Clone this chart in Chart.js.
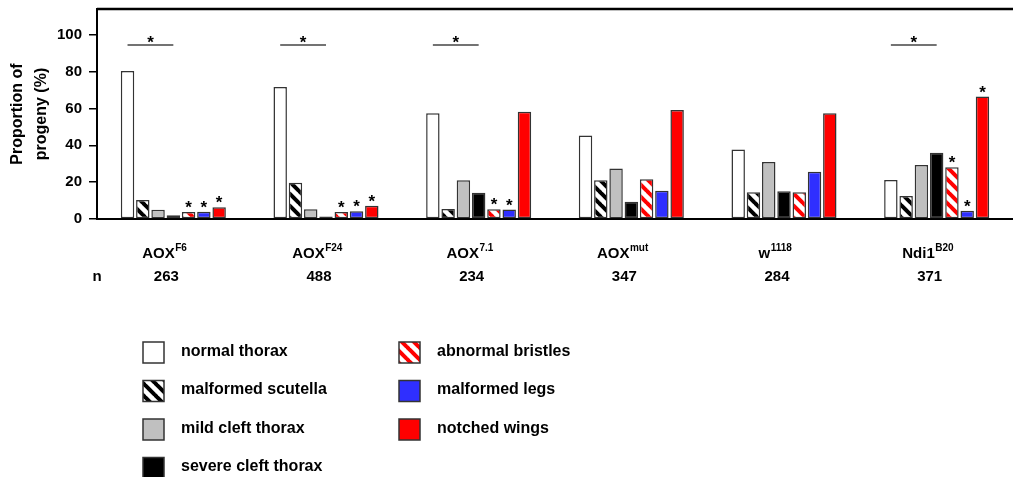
<!DOCTYPE html>
<html>
<head>
<meta charset="utf-8">
<script src="https://cdn.jsdelivr.net/npm/chart.js@4.4.0/dist/chart.umd.min.js"></script>
<style>
body{margin:0;background:#fff;}
</style>
</head>
<body>
<canvas id="myChart" width="1013" height="477"></canvas>
<script>
// genotypes (name + superscript) and n per genotype
var groups = ['AOX', 'AOX', 'AOX', 'AOX', 'w', 'Ndi1'];
var groupSup = ['F6', 'F24', '7.1', 'mut', '1118', 'B20'];
var nCounts = ['263', '488', '234', '347', '284', '371'];

var phenotypes = ['normal thorax', 'malformed scutella', 'mild cleft thorax', 'severe cleft thorax',
                  'abnormal bristles', 'malformed legs', 'notched wings'];

// proportion of progeny (%)
var normalThorax      = [80.4, 71.7, 57.4, 45.3, 37.7, 21.2];
var malformedScutella = [10.3, 19.7, 5.4, 21.0, 14.5, 12.5];
var mildCleft         = [5.0, 5.3, 21.0, 27.4, 31.0, 29.3];
var severeCleft       = [2.0, 1.3, 14.3, 9.4, 15.0, 35.9];
var abnormalBristles  = [3.8, 3.8, 5.3, 21.6, 14.5, 28.1];
var malformedLegs     = [4.0, 4.2, 5.1, 15.4, 25.7, 4.5];
var notchedWings      = [6.4, 7.2, 58.2, 59.2, 57.4, 66.5];

var yTicks = [0, 20, 40, 60, 80, 100];

// significance marks: per genotype, which phenotype bars carry a star
var starredBars = [[4, 5, 6], [4, 5, 6], [4, 5], [], [], [4, 5, 6]];
var bracketGroups = [0, 1, 2, 5];
var bracketLevel = 94.5;

function stripes(color){
    var s = 12;
    var c = document.createElement('canvas');
    c.width = s; c.height = s;
    var g = c.getContext('2d');
    g.fillStyle = '#fff';
    g.fillRect(0, 0, s, s);
    g.strokeStyle = color;
    g.lineWidth = 4;
    for (var k = -s; k <= s; k += s){
        g.beginPath();
        g.moveTo(k - 1, -1);
        g.lineTo(k + s + 1, s + 1);
        g.stroke();
    }
    return g.createPattern(c, 'repeat');
}

var fills = ['#ffffff', stripes('#000000'), '#c0c0c0', '#000000', stripes('#ff0000'), '#2f2fff', '#ff0000'];
var series = [normalThorax, malformedScutella, mildCleft, severeCleft, abnormalBristles, malformedLegs, notchedWings];

var FONT = '"Liberation Sans", Arial, sans-serif';

var extras = {
    id: 'extras',
    afterDraw: function(chart){
        var ctx = chart.ctx, area = chart.chartArea, xs = chart.scales.x, ys = chart.scales.y;
        ctx.save();

        // top frame line
        ctx.strokeStyle = '#000';
        ctx.lineWidth = 2.5;
        ctx.beginPath();
        ctx.moveTo(area.left, area.top);
        ctx.lineTo(area.right, area.top);
        ctx.stroke();

        // brackets with star
        ctx.fillStyle = '#000';
        ctx.textAlign = 'center';
        ctx.textBaseline = 'alphabetic';
        ctx.font = 'bold 17px ' + FONT;
        var ly = ys.getPixelForValue(bracketLevel);
        bracketGroups.forEach(function(g){
            var a = chart.getDatasetMeta(0).data[g].x;
            var b = chart.getDatasetMeta(3).data[g].x;
            ctx.strokeStyle = '#444';
            ctx.lineWidth = 1.5;
            ctx.beginPath();
            ctx.moveTo(a, ly);
            ctx.lineTo(b, ly);
            ctx.stroke();
            ctx.fillText('*', (a + b) / 2, ly + 3);
        });

        // stars over single bars
        starredBars.forEach(function(list, g){
            list.forEach(function(d){
                var bar = chart.getDatasetMeta(d).data[g];
                ctx.fillText('*', bar.x, bar.y + 1);
            });
        });

        // category labels with superscripts, and n row
        var baseFont = 'bold 15px ' + FONT, supFont = 'bold 10px ' + FONT;
        groups.forEach(function(name, i){
            var cx = xs.getPixelForValue(i) - 9;
            ctx.font = baseFont;
            var w1 = ctx.measureText(name).width;
            ctx.font = supFont;
            var w2 = ctx.measureText(groupSup[i]).width;
            var left = cx - (w1 + w2) / 2;
            ctx.textAlign = 'left';
            ctx.font = baseFont;
            ctx.fillText(name, left, 258);
            ctx.font = supFont;
            ctx.fillText(groupSup[i], left + w1 + 0.5, 251);
            ctx.textAlign = 'center';
            ctx.font = baseFont;
            ctx.fillText(nCounts[i], cx + 2, 281);
        });
        ctx.textAlign = 'center';
        ctx.fillText('n', area.left, 281);

        // legend, two columns
        var cols = [[0, 1, 2, 3], [4, 5, 6]];
        var colX = [143, 399];
        ctx.font = 'bold 16px ' + FONT;
        ctx.textAlign = 'left';
        cols.forEach(function(list, c){
            list.forEach(function(d, r){
                var top = 342 + r * 38.5;
                ctx.fillStyle = chart.data.datasets[d].backgroundColor;
                ctx.fillRect(colX[c], top, 21, 21);
                ctx.strokeStyle = '#333';
                ctx.lineWidth = 1.5;
                ctx.strokeRect(colX[c], top, 21, 21);
                ctx.fillStyle = '#000';
                ctx.fillText(chart.data.datasets[d].label, colX[c] + 38, top + 13.5);
            });
        });
        ctx.restore();
    }
};

var ctx = document.getElementById('myChart');
var myChart = new Chart(ctx, {
    type: 'bar',
    data: {
        labels: groups.map(function(g, i){ return g + groupSup[i]; }),
        datasets: phenotypes.map(function(p, i){
            return {
                label: p,
                data: series[i],
                backgroundColor: fills[i],
                borderColor: '#333',
                borderWidth: 1.5,
                borderSkipped: false,
                categoryPercentage: 0.7,
                barPercentage: 0.88
            };
        })
    },
    options: {
        responsive: false,
        animation: false,
        devicePixelRatio: 1,
        layout: {padding: {top: 9, right: 0, bottom: 258, left: 0}},
        plugins: {legend: {display: false}, tooltip: {enabled: false}},
        scales: {
            x: {
                grid: {display: false},
                ticks: {display: false},
                border: {display: true, color: '#000', width: 2},
                afterFit: function(s){ s.height = 0; s.paddingLeft = 0; s.paddingRight = 0; }
            },
            y: {
                min: 0,
                max: 114,
                afterFit: function(s){ s.width = 97; s.paddingTop = 0; s.paddingBottom = 0; },
                afterBuildTicks: function(s){ s.ticks = yTicks.map(function(v){ return {value: v}; }); },
                grid: {drawOnChartArea: false, drawTicks: true, tickLength: 8, color: '#000', lineWidth: 1.5},
                border: {display: true, color: '#000', width: 2},
                ticks: {color: '#000', padding: 7, font: {family: FONT, size: 15, weight: 'bold'}},
                title: {
                    display: true,
                    text: ['Proportion of', 'progeny (%)'],
                    color: '#000',
                    padding: {top: 6, bottom: 0},
                    font: {family: FONT, size: 16, weight: 'bold', lineHeight: 1.5}
                }
            }
        }
    },
    plugins: [extras]
});
</script>
</body>
</html>
